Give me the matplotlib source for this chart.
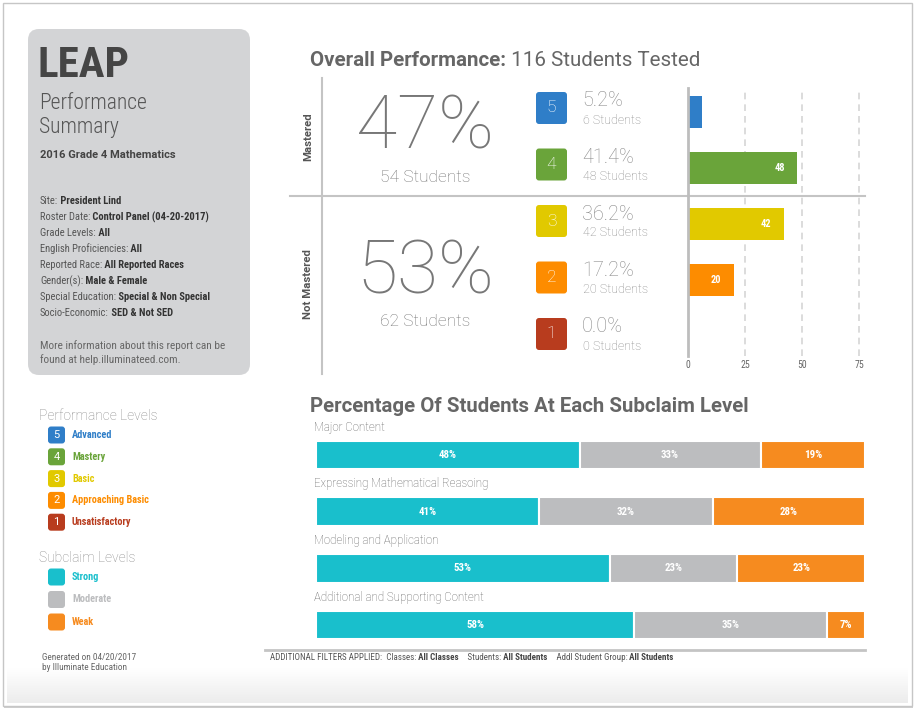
import matplotlib
matplotlib.use("Agg")
import matplotlib.pyplot as plt
import numpy as np
from matplotlib import font_manager
from matplotlib.colors import LinearSegmentedColormap
from matplotlib.patches import FancyBboxPatch, Rectangle

# ---- data ----
total_tested = 116
level_numbers = [5, 4, 3, 2, 1]
level_names = ["Advanced", "Mastery", "Basic", "Approaching Basic", "Unsatisfactory"]
level_students = [6, 48, 42, 20, 0]
level_colors = ["#2f7ec8", "#6aa43a", "#e1c900", "#fd8c00", "#b83c1e"]
mastered_levels = [5, 4]
group_labels = ["Mastered", "Not Mastered"]
bar_ticks = [0, 25, 50, 75]

subclaim_names = ["Major Content", "Expressing Mathematical Reasoing",
                  "Modeling and Application", "Additional and Supporting Content"]
subclaim_strong = [48, 41, 53, 58]
subclaim_moderate = [33, 32, 23, 35]
subclaim_weak = [19, 28, 23, 7]
subclaim_levels = ["Strong", "Moderate", "Weak"]
subclaim_colors = ["#19bfcc", "#bcbdbf", "#f68b1f"]

report_title = "2016 Grade 4 Mathematics"
report_filters = [
    ("Site:", "President Lind"),
    ("Roster Date:", "Control Panel (04-20-2017)"),
    ("Grade Levels:", "All"),
    ("English Proficiencies:", "All"),
    ("Reported Race:", "All Reported Races"),
    ("Gender(s):", "Male & Female"),
    ("Special Education:", "Special & Non Special"),
    ("Socio-Economic:", "SED & Not SED"),
]
extra_filters = [
    ("ADDITIONAL FILTERS APPLIED:  Classes:", "All Classes"),
    ("    Students:", "All Students"),
    ("    Addl Student Group:", "All Students"),
]

# ---- fonts ----
avail = {f.name for f in font_manager.fontManager.ttflist}


def pick(*names):
    for n in names:
        if n in avail:
            return n
    return "DejaVu Sans"


ROBOTO = pick("Roboto", "Liberation Sans")
NARROW = pick("Roboto Condensed", "Liberation Sans Narrow", "Roboto")

fig = plt.figure(figsize=(9.16, 7.11), dpi=100)
fig.patch.set_facecolor("white")

# pixel canvas for the page decoration and text blocks
bg = fig.add_axes([0, 0, 1, 1])
bg.axis("off")

bg.add_patch(Rectangle((4, 5), 909, 703, facecolor="#cfcfcf", edgecolor="none", zorder=0))
bg.add_patch(Rectangle((3, 3), 909, 703, facecolor="white", edgecolor="#c6c6c6", lw=1, zorder=0.2))
grad = np.linspace(0, 1, 50).reshape(-1, 1)
bg.imshow(grad, extent=[7, 908, 703, 668], aspect="auto", zorder=0.5,
          cmap=LinearSegmentedColormap.from_list("fade", ["white", "#ececec"]))
bg.set_xlim(0, 916)
bg.set_ylim(711, 0)


def pair(x, y, label, value, size, family=NARROW, lc="#555555", vc="#333333"):
    t = bg.text(x, y, label, fontsize=size, family=family, color=lc, va="center")
    bg.annotate(" " + value, xy=(1, 0.5), xycoords=t, fontsize=size, family=family,
                color=vc, weight="bold", va="center")


# ---- left summary card ----
bg.add_patch(FancyBboxPatch((39, 40), 200, 324, boxstyle="round,pad=11,rounding_size=11",
                            facecolor="#d3d4d6", edgecolor="none", zorder=1))
bg.text(38, 77, "LEAP", fontsize=31, family=NARROW, weight="bold", color="#454545", va="baseline")
bg.text(39, 109, "Performance", fontsize=15.5, family=NARROW, weight="light", color="#555555", va="baseline")
bg.text(39, 133, "Summary", fontsize=15.5, family=NARROW, weight="light", color="#555555", va="baseline")
bg.text(40, 155, report_title, fontsize=8, family=ROBOTO, weight="bold", color="#444444", va="center")
for k, (lab, val) in enumerate(report_filters):
    pair(40, 201 + 16 * k, lab, val, 7.6)
bg.text(40, 346, "More information about this report can be", fontsize=8.1, family=NARROW,
        color="#666666", va="center")
bg.text(40, 360, "found at help.illuminateed.com.", fontsize=8.1, family=NARROW,
        color="#666666", va="center")

# ---- legends ----
bg.text(39, 416, "Performance Levels", fontsize=9.9, family=ROBOTO, weight="light", color="#888888", va="center")
for k, (num, name, col) in enumerate(zip(level_numbers, level_names, level_colors)):
    y = 435 + 21.8 * k
    bg.add_patch(FancyBboxPatch((49, y - 7.5), 15, 15, boxstyle="round,pad=1,rounding_size=3",
                                facecolor=col, edgecolor="none"))
    bg.text(56.5, y, str(num), fontsize=8, family=ROBOTO, color="white", ha="center", va="center")
    bg.text(72, y, name, fontsize=7.4, family=NARROW, weight="bold", color=col, va="center")

bg.text(39, 558, "Subclaim Levels", fontsize=9.9, family=ROBOTO, weight="light", color="#888888", va="center")
for k, (name, col) in enumerate(zip(subclaim_levels, subclaim_colors)):
    y = 577 + 22.5 * k
    bg.add_patch(FancyBboxPatch((49, y - 7.5), 15, 15, boxstyle="round,pad=1,rounding_size=3",
                                facecolor=col, edgecolor="none"))
    bg.text(72, y, name, fontsize=7.4, family=NARROW, weight="bold", color=col, va="center")

bg.text(42, 657, "Generated on 04/20/2017", fontsize=6.7, family=NARROW, color="#666666", va="center")
bg.text(42, 668, "by Illuminate Education", fontsize=6.7, family=NARROW, color="#666666", va="center")

# ---- overall performance block ----
t = bg.text(310, 61, "Overall Performance:", fontsize=14.8, family=ROBOTO, weight="bold",
            color="#666666", va="center")
bg.annotate(" %d Students Tested" % total_tested, xy=(1, 0.5), xycoords=t, fontsize=14.8,
            family=ROBOTO, color="#666666", va="center")

bg.plot([322, 322], [78, 374], color="#c4c4c4", lw=1.5)
bg.plot([290, 865], [196, 196], color="#c4c4c4", lw=1.5)

mastered = sum(n for lv, n in zip(level_numbers, level_students) if lv in mastered_levels)
groups = [mastered, total_tested - mastered]
for k, (lab, n) in enumerate(zip(group_labels, groups)):
    yc = 137 + 147 * k
    bg.text(308, yc, lab, rotation=90, fontsize=8.2, family=ROBOTO, weight="bold",
            color="#555555", ha="center", va="center")
    bg.text(425, 128 + 145 * k, "%d%%" % round(100 * n / total_tested), fontsize=54,
            family=ROBOTO, weight="light", color="#777777", ha="center", va="center")
    bg.text(425, 177 + 145 * k, "%d Students" % n, fontsize=12.5, family=ROBOTO,
            weight="light", color="#777777", ha="center", va="center")

for k, (num, n, col) in enumerate(zip(level_numbers, level_students, level_colors)):
    y = 108 + 56.5 * k
    bg.add_patch(FancyBboxPatch((538, y - 14), 27, 28, boxstyle="round,pad=2,rounding_size=3",
                                facecolor=col, edgecolor="none"))
    bg.text(551.5, y, str(num), fontsize=12.5, family=ROBOTO, weight="light", color="white",
            ha="center", va="center")
    bg.text(582, y - 7, "%.1f%%" % (100 * n / total_tested), fontsize=14.3, family=ROBOTO,
            weight="light", color="#888888", va="center")
    bg.text(583, y + 12, "%d Students" % n, fontsize=9, family=ROBOTO, weight="light",
            color="#888888", va="center")

# ---- level bar chart ----
W, H = 916.0, 711.0
ax1 = fig.add_axes([688 / W, 1 - 356 / H, 177 / W, 268 / H])
ax1.set_facecolor("none")
idx = np.arange(len(level_students))
ax1.barh(idx, level_students, height=0.57, color=level_colors, zorder=2)
for i, n in enumerate(level_students):
    if n > 0:
        ax1.text(n - 7.9, i, str(n), ha="center", va="center", color="white", fontsize=7.5,
                 family=NARROW, weight="bold", clip_on=True, zorder=3)
ax1.set_xlim(0, 177 / 2.28)
ax1.set_ylim(4.357, -0.4286)
ax1.set_xticks(bar_ticks)
ax1.set_yticks([])
ax1.xaxis.grid(True, linestyle=(0, (4, 3)), color="#d6d6d6", lw=1.2)
ax1.set_axisbelow(True)
for s in ["top", "right", "bottom"]:
    ax1.spines[s].set_visible(False)
ax1.spines["left"].set_color("#bdbdbd")
ax1.spines["left"].set_linewidth(2)
ax1.tick_params(axis="x", length=0, pad=3, labelsize=7, labelcolor="#666666")
for lbl in ax1.get_xticklabels():
    lbl.set_family(NARROW)

# ---- subclaim block ----
bg.text(310, 407, "Percentage Of Students At Each Subclaim Level", fontsize=14.7, family=ROBOTO,
        weight="bold", color="#666666", va="center")

ax2 = fig.add_axes([316 / W, 1 - 645 / H, 549 / W, 210 / H])
ax2.axis("off")
vals = np.array([subclaim_strong, subclaim_moderate, subclaim_weak]).T
shares = vals / vals.sum(axis=1, keepdims=True)
lefts = np.cumsum(shares, axis=1) - shares
rows = np.arange(len(subclaim_names))
for j, col in enumerate(subclaim_colors):
    ax2.barh(rows, shares[:, j], left=lefts[:, j], height=0.51, color=col,
             edgecolor="white", linewidth=1.5)
    for i in rows:
        ax2.text(lefts[i, j] + shares[i, j] / 2, i, "%d%%" % vals[i, j], ha="center",
                 va="center", color="white", fontsize=7.8, family=NARROW, weight="bold")
for i, name in zip(rows, subclaim_names):
    ax2.text(-0.004, i - 0.49, name, fontsize=8.3, family=ROBOTO, weight="light",
             color="#5f5f5f", va="center")
ax2.set_xlim(0, 1)
ax2.set_ylim(3.353, -0.353)

bg.plot([265, 865], [650, 650], color="#c4c4c4", lw=2)
x0 = 270
prev = None
for lab, val in extra_filters:
    if prev is None:
        t = bg.text(x0, 657, lab, fontsize=6.5, family=NARROW, color="#555555", va="center")
    else:
        t = bg.annotate(lab, xy=(1, 0.5), xycoords=prev, fontsize=6.5, family=NARROW,
                        color="#555555", va="center")
    prev = bg.annotate(" " + val, xy=(1, 0.5), xycoords=t, fontsize=6.5, family=NARROW,
                       color="#444444", weight="bold", va="center")

fig.savefig("out.png", dpi=100)
